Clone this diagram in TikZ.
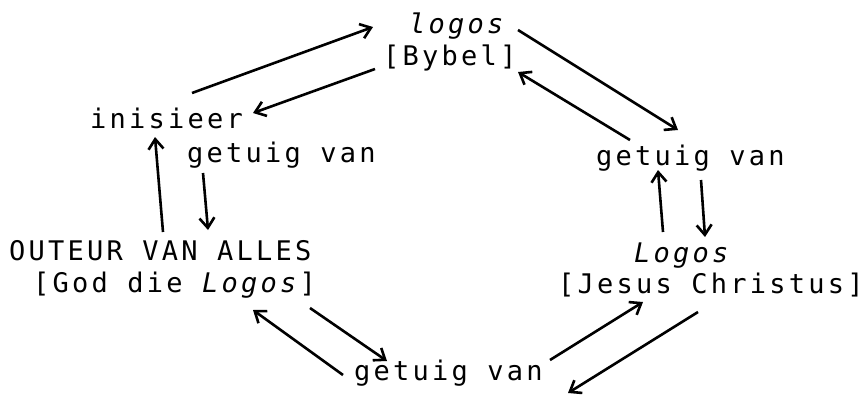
\documentclass[tikz,border=0pt]{standalone}
\usepackage{fontspec}
\setmainfont{DejaVu Sans Mono}[LetterSpace=12]
\usetikzlibrary{arrows.meta,positioning,calc}

\begin{document}
\begin{tikzpicture}[x=1pt, y=-1pt,
    woord/.style={anchor=base west, inner sep=0pt, font=\fontsize{27}{31}\selectfont},
    pyl/.style={-{Straight Barb[length=10pt,width=15pt,line width=2.6pt]}, line width=2.6pt}]
    \useasboundingbox (0,0) rectangle (864,400);

    \node [woord] (logos) at (409,33) {\textit{logos}};
    \node [woord] (bybel) at (383,65) {[Bybel]};
    \node [woord] (inisieer) at (90,128) {inisieer};
    \node [woord] (getuigL) at (187,162) {getuig van};
    \node [woord] (outeur) at (9,260) {OUTEUR VAN ALLES};
    \node [woord] (god) at (33,292) {[God die \textit{Logos}]};
    \node [woord] (getuigR) at (596,165) {getuig van};
    \node [woord] (logosR) at (634,262) {\textit{Logos}};
    \node [woord] (jesus) at (558,293) {[Jesus Christus]};
    \node [woord] (getuigB) at (354,380) {getuig van};

    \draw [pyl] ($(inisieer.base west)+(102,-35)$) -- ($(logos.base west)+(-36,-6)$);
    \draw [pyl] ($(bybel.base west)+(-8,4)$) -- ($(inisieer.base west)+(163,-15)$);
    \draw [pyl] ($(logos.base west)+(109,-3)$) -- ($(getuigR.base west)+(82,-35)$);
    \draw [pyl] ($(getuigR.base west)+(34,-25)$) -- ($(bybel.base west)+(135,7)$);
    \draw [pyl] ($(logosR.base west)+(29,-30)$) -- ($(getuigR.base west)+(62,5)$);
    \draw [pyl] ($(getuigR.base west)+(105,15)$) -- ($(logosR.base west)+(71,-25)$);
    \draw [pyl] ($(getuigB.base west)+(196,-20)$) -- ($(jesus.base west)+(85,9)$);
    \draw [pyl] ($(jesus.base west)+(140,19)$) -- ($(getuigB.base west)+(214,13)$);
    \draw [pyl] ($(getuigB.base west)+(-11,-5)$) -- ($(god.base west)+(220,18)$);
    \draw [pyl] ($(god.base west)+(277,16)$) -- ($(getuigB.base west)+(33,-19)$);
    \draw [pyl] ($(outeur.base west)+(154,-28)$) -- ($(inisieer.base west)+(65,9)$);
    \draw [pyl] ($(getuigL.base west)+(16,11)$) -- ($(outeur.base west)+(199,-30)$);
\end{tikzpicture}
\end{document}
